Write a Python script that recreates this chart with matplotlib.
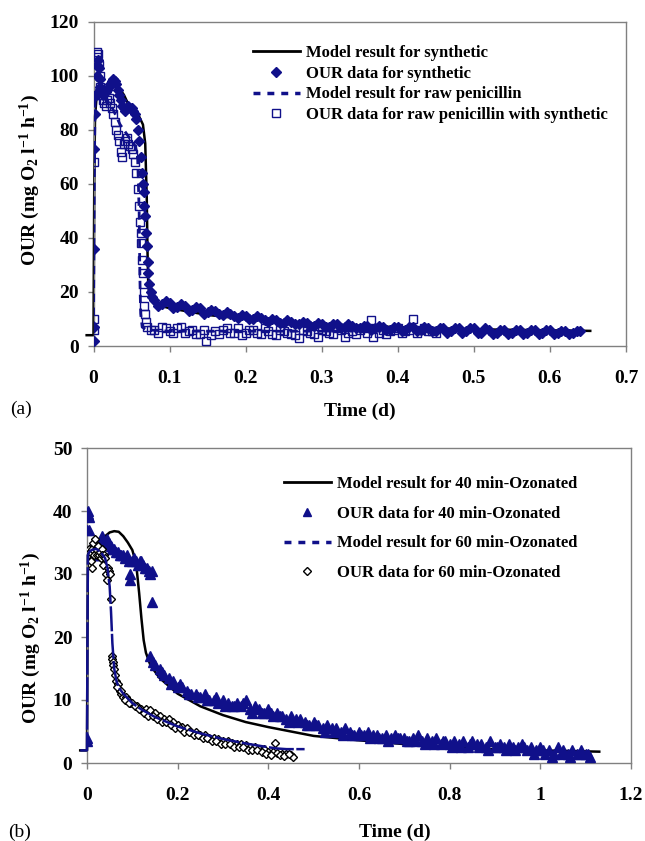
import matplotlib
matplotlib.use("Agg")
import matplotlib.pyplot as plt
from matplotlib.lines import Line2D

plt.rcParams['font.family'] = ['Liberation Serif', 'DejaVu Serif']
plt.rcParams['font.weight'] = 'bold'
plt.rcParams['mathtext.default'] = 'regular'

NAVY = '#10108a'
GREY = '#808080'

# ---- (a) synthetic vs raw penicillin ----
syn_t = [0.000, 0.000, 0.001, 0.001, 0.002, 0.003, 0.004, 0.005, 0.006, 0.007,
         0.008, 0.009, 0.010, 0.012, 0.014, 0.016, 0.018, 0.020, 0.022, 0.024,
         0.026, 0.028, 0.030, 0.032, 0.034, 0.036, 0.038, 0.040, 0.042, 0.044,
         0.046, 0.048, 0.050, 0.052, 0.054, 0.056, 0.058, 0.060, 0.062, 0.064,
         0.065, 0.066, 0.067, 0.068, 0.069, 0.070, 0.071, 0.072, 0.073, 0.075,
         0.077, 0.08, 0.09, 0.10, 0.11, 0.12, 0.13, 0.14, 0.15, 0.16, 0.17,
         0.18, 0.19, 0.20, 0.21, 0.22, 0.23, 0.24, 0.25, 0.26, 0.27, 0.28,
         0.29, 0.30, 0.31, 0.32, 0.33, 0.34, 0.35, 0.36, 0.37, 0.38, 0.39,
         0.40, 0.41, 0.42, 0.43, 0.44, 0.45, 0.46, 0.47, 0.48, 0.49, 0.50,
         0.51, 0.52, 0.53, 0.54, 0.55, 0.56, 0.57, 0.58, 0.59, 0.60, 0.61,
         0.62, 0.63, 0.64,
         0.085, 0.095, 0.105, 0.115, 0.125, 0.135, 0.145, 0.155, 0.165, 0.175,
         0.185, 0.195, 0.205, 0.215, 0.225, 0.235, 0.245, 0.255, 0.265, 0.275,
         0.285, 0.295, 0.305, 0.315, 0.325, 0.335, 0.345, 0.355, 0.365, 0.375,
         0.385, 0.395, 0.405, 0.415, 0.425, 0.435, 0.445, 0.455, 0.465, 0.475,
         0.485, 0.495, 0.505, 0.515, 0.525, 0.535, 0.545, 0.555, 0.565, 0.575,
         0.585, 0.595, 0.605, 0.615, 0.625, 0.635]
syn_v = [2, 7, 36, 73, 86, 93, 100, 104, 106, 103,
         99, 96, 94, 93, 95, 94, 95, 96, 97, 98,
         99, 98, 97, 95, 93, 91, 89, 88, 87, 88,
         89, 88, 88, 87, 86, 84, 80, 76, 70, 64,
         60, 57, 52, 48, 42, 37, 31, 27, 23, 20,
         18, 17, 15.5, 16, 14.5, 15, 13.5, 14, 12.5, 13, 11.5,
         12, 10.5, 11, 10, 10.5, 9, 9.5, 8.5, 9, 8, 8.5,
         7.5, 8, 7, 8, 7, 7.5, 6.5, 7.5, 6.5, 7, 6,
         7, 6, 7, 6, 6.5, 5.5, 6.5, 5.5, 6.5, 5.5, 6.5,
         5, 6, 5, 6, 5, 6, 5, 6, 5, 6, 5,
         5.5, 5, 5.5,
         15, 16.5, 14, 15.5, 13, 14.5, 12, 13.5, 12, 12.5,
         11, 11.5, 10, 11, 9.5, 10, 8.5, 9.5, 8, 9,
         7.5, 8.5, 7, 8, 6.5, 8, 6.5, 7.5, 6, 7.5,
         6, 7, 5.5, 7, 5.5, 7, 5.5, 6.5, 5, 6.5,
         5, 6.5, 5, 6.5, 4.5, 6, 4.5, 6, 4.5, 6,
         4.5, 6, 4.5, 5.5, 4.5, 5.5]

raw_t = [0.000, 0.000, 0.001, 0.002, 0.003, 0.004, 0.005, 0.006, 0.007, 0.008,
         0.009, 0.010, 0.012, 0.014, 0.016, 0.018, 0.020, 0.022, 0.024, 0.026,
         0.028, 0.030, 0.032, 0.034, 0.036, 0.037, 0.040, 0.042, 0.044, 0.046,
         0.048, 0.050, 0.052, 0.054, 0.056, 0.058, 0.060, 0.061, 0.062, 0.063,
         0.064, 0.065, 0.066, 0.067, 0.068, 0.069, 0.07, 0.08, 0.09, 0.10,
         0.11, 0.12, 0.13, 0.14, 0.148, 0.155, 0.16, 0.17, 0.18, 0.19, 0.20,
         0.21, 0.22, 0.23, 0.24, 0.25, 0.26, 0.27, 0.28, 0.29, 0.30, 0.31,
         0.32, 0.33, 0.34, 0.35, 0.36, 0.365, 0.367, 0.38, 0.39, 0.40, 0.41,
         0.42, 0.43, 0.44, 0.45,
         0.075, 0.085, 0.095, 0.105, 0.115, 0.125, 0.135, 0.145, 0.165, 0.175,
         0.185, 0.195, 0.205, 0.215, 0.225, 0.235, 0.245, 0.255, 0.265, 0.275,
         0.285, 0.295, 0.305, 0.315, 0.325, 0.335, 0.345, 0.355, 0.375, 0.385,
         0.395, 0.405, 0.415, 0.425, 0.435, 0.445]
raw_v = [6, 10, 68, 93, 102, 107, 109, 108, 104, 100,
         96, 93, 91, 90, 89, 91, 92, 90, 88, 86,
         83, 80, 78, 76, 72, 70, 75, 76, 77, 75,
         74, 73, 71, 68, 64, 58, 52, 46, 42, 38,
         32, 27, 20, 15, 12, 9, 7, 6, 7, 5.5,
         6.5, 5, 6, 4.5, 2, 4, 5.5, 6, 5, 6.5, 5,
         6, 4.5, 5.5, 4, 5.5, 4.5, 3, 5.5, 4.5, 6, 5,
         6.5, 3.3, 5.5, 6, 5, 9.6, 3.3, 6, 5.5, 6.5, 5.5,
         10, 6, 5.5, 5,
         6, 5, 6.5, 5, 7, 5.5, 4.5, 6, 4.5, 6.5,
         5, 4, 6, 5, 6.5, 4.5, 6, 5, 4, 6,
         5, 3.5, 5.5, 4.5, 6, 5, 4.5, 6.5, 5, 4.5,
         6, 5, 6, 5, 6.5, 5.5]

syn_model_t = [-0.009, 0.000, 0.001, 0.002, 0.004, 0.010, 0.020, 0.025, 0.030,
               0.035, 0.040, 0.045, 0.050, 0.055, 0.060, 0.065, 0.068, 0.070,
               0.071, 0.072, 0.075, 0.08, 0.10, 0.15, 0.20, 0.25, 0.30, 0.40,
               0.50, 0.60, 0.653]
syn_model_v = [4, 4, 60, 85, 92, 94, 96, 98, 97,
               95, 93, 90, 88, 87, 85, 82, 75, 55,
               35, 22, 17, 15.5, 14, 11.5, 10, 9, 8, 7,
               6.2, 5.8, 5.6]

raw_model_t = [0.000, 0.001, 0.002, 0.004, 0.008, 0.015, 0.025, 0.035, 0.045,
               0.055, 0.058, 0.060, 0.061, 0.062, 0.064, 0.07, 0.10, 0.20,
               0.30, 0.45]
raw_model_v = [6, 60, 90, 95, 94, 92, 88, 82, 78,
               74, 70, 50, 25, 12, 7, 6, 5.5, 5.5,
               5.5, 5.5]

# ---- (b) ozonated samples ----
o40_t = [0.000, 0.000, 0.001, 0.002, 0.003, 0.004, 0.005, 0.007, 0.009, 0.011,
         0.013, 0.015, 0.017, 0.019, 0.021, 0.023, 0.025, 0.027, 0.030, 0.033,
         0.036, 0.040, 0.044, 0.048, 0.052, 0.056, 0.060, 0.064, 0.068, 0.072,
         0.076, 0.080, 0.084, 0.088, 0.092, 0.094, 0.095, 0.100, 0.104, 0.108,
         0.112, 0.116, 0.120, 0.124, 0.128, 0.132, 0.136, 0.140, 0.143, 0.143,
         0.14, 0.15, 0.16, 0.17, 0.18, 0.19, 0.20, 0.21, 0.22, 0.23,
         0.24, 0.25, 0.26, 0.27, 0.28, 0.29, 0.30, 0.31, 0.32, 0.33,
         0.34, 0.35, 0.36, 0.37, 0.38, 0.39, 0.40, 0.41, 0.42, 0.43,
         0.44, 0.45, 0.46, 0.47, 0.48, 0.49, 0.50, 0.51, 0.52, 0.53,
         0.54, 0.55, 0.56, 0.57, 0.58, 0.59, 0.60, 0.61, 0.62, 0.63,
         0.64, 0.65, 0.66, 0.67, 0.68, 0.69, 0.70, 0.71, 0.72, 0.73,
         0.74, 0.75, 0.76, 0.77, 0.78, 0.79, 0.80, 0.81, 0.82, 0.83,
         0.84, 0.85, 0.86, 0.87, 0.88, 0.89, 0.90, 0.91, 0.92, 0.93,
         0.94, 0.95, 0.96, 0.97, 0.98, 0.99, 1.00, 1.01, 1.02, 1.03,
         1.04, 1.05, 1.06, 1.07, 1.08, 1.09, 1.10, 1.11,
         0.145, 0.165, 0.185, 0.205, 0.225, 0.245, 0.265, 0.285, 0.305, 0.325,
         0.345, 0.365, 0.385, 0.405, 0.425, 0.445, 0.465, 0.485, 0.505, 0.525,
         0.545, 0.565, 0.585, 0.605, 0.625, 0.645, 0.665, 0.685, 0.705, 0.725,
         0.745, 0.765, 0.785, 0.805, 0.825, 0.845, 0.865, 0.885, 0.905, 0.925,
         0.945, 0.965, 0.985, 1.005, 1.025, 1.045, 1.065, 1.085, 1.105]
o40_v = [3.5, 4, 37, 40, 39.5, 39, 37, 34, 33, 34,
         33.5, 34, 33, 34, 33, 33.5, 34, 33, 35, 36,
         35.5, 35, 35.5, 35, 34.5, 34, 34, 33.5, 33.5, 33,
         33, 33, 32.5, 33, 32, 29, 30, 32, 32.5, 32,
         31.5, 32, 32, 31.5, 31, 31, 30.5, 30, 30.5, 25.5,
         17, 15.5, 15, 14, 13.5, 13, 12, 12, 11.5, 11,
         11, 10.5, 11, 10, 10, 9.5, 10, 9.5, 9, 9.5,
         9, 10, 8.5, 9, 8.5, 8, 8.5, 7.5, 8, 7.5,
         7, 7.5, 7, 7, 6.5, 6, 6.5, 6, 5.5, 6,
         5.5, 5.5, 5, 5.5, 5, 4.5, 5, 4.5, 5, 4.5,
         4.5, 4, 4.5, 4, 4.5, 4, 4, 3.5, 4, 4.5,
         3.5, 4, 3.5, 4, 3, 3.5, 3, 3.5, 3, 3.5,
         2.5, 3.5, 3, 3, 2.5, 3.5, 2.5, 3, 2.5, 3,
         2.5, 2.5, 3, 2, 2.5, 2, 2.5, 1.5, 2, 1.5,
         2.5, 2, 1.5, 2, 1.5, 2, 1.5, 1,
         16, 14.5, 12.5, 12.5, 11, 10.5, 10, 10.5, 9, 9,
         9.5, 8, 8, 8, 7.5, 6.5, 6.5, 6, 6, 5,
         5, 4.5, 4.5, 4.5, 4, 4, 3.5, 4, 3.5, 3.5,
         3, 3, 3.5, 2.5, 2.5, 3, 2.5, 2, 2.5, 2,
         2, 2.5, 1.5, 2, 1, 1.5, 1, 1.5, 1.5]

o60_t = [0.002, 0.004, 0.006, 0.008, 0.010, 0.012, 0.014, 0.016, 0.018, 0.020,
         0.022, 0.024, 0.026, 0.028, 0.030, 0.032, 0.034, 0.036, 0.038, 0.040,
         0.042, 0.044, 0.046, 0.048, 0.051, 0.053, 0.055, 0.056, 0.057, 0.058,
         0.060, 0.062, 0.065, 0.068, 0.072, 0.076, 0.080, 0.085, 0.090, 0.095,
         0.10, 0.11, 0.12, 0.13, 0.14, 0.15, 0.16, 0.17, 0.18, 0.19,
         0.20, 0.21, 0.22, 0.23, 0.24, 0.25, 0.26, 0.27, 0.28, 0.29,
         0.30, 0.31, 0.32, 0.33, 0.34, 0.35, 0.36, 0.37, 0.38, 0.39,
         0.40, 0.41, 0.415, 0.42, 0.43, 0.44, 0.45, 0.455,
         0.067, 0.075, 0.083, 0.093, 0.105, 0.115, 0.125, 0.135, 0.145, 0.155,
         0.165, 0.175, 0.185, 0.195, 0.205, 0.215, 0.225, 0.235, 0.245, 0.255,
         0.265, 0.275, 0.285, 0.295, 0.305, 0.315, 0.325, 0.335, 0.345, 0.355,
         0.365, 0.375, 0.385, 0.395, 0.405, 0.425, 0.435, 0.445]
o60_v = [33, 34, 33.5, 32, 31, 34, 35, 33, 35.5, 34,
         33, 34.5, 33, 33.5, 32.5, 34, 33, 31.5, 33, 32.5,
         30, 29, 31, 30.5, 30, 26, 17, 16.5, 16, 15.5,
         15, 14, 13, 12.5, 11.5, 11, 10.5, 10.5, 10, 9.5,
         9.5, 9, 8.5, 8.5, 8.4, 8, 7.5, 7, 7, 6.5,
         6, 5.7, 5.5, 5, 5, 4.5, 4.5, 4, 4, 3.8,
         3.5, 3.5, 3.2, 3, 3, 2.8, 2.6, 2.5, 2.3, 2.2,
         1.8, 1.8, 3.2, 1.6, 1.5, 1.4, 1.2, 1.0,
         12, 11.5, 10, 9.5, 9, 8.5, 8, 7.5, 7.5, 7,
         6.5, 6.5, 6, 5.5, 5.5, 5, 5, 4.5, 4.5, 4,
         4, 3.5, 3.5, 3, 3, 3, 2.5, 2.5, 2.5, 2,
         2, 2, 1.8, 1.5, 1.2, 1.3, 1.1, 1.5]

m40_t = [-0.015, 0.000, 0.001, 0.002, 0.010, 0.020, 0.030, 0.040, 0.050, 0.060,
         0.070, 0.080, 0.090, 0.100, 0.105, 0.110, 0.115, 0.120, 0.125, 0.130,
         0.140, 0.160, 0.20, 0.25, 0.30, 0.35, 0.40, 0.45, 0.50, 0.60,
         0.70, 0.80, 0.90, 1.00, 1.13]
m40_v = [2, 2, 20, 33, 34, 34.5, 35.3, 36, 36.6, 36.8,
         36.7, 36, 35, 33.8, 32.5, 30.5, 27, 23, 19.5, 17.5,
         15.5, 13.5, 11, 9, 7.6, 6.5, 5.7, 5.0, 4.3, 3.6,
         3.0, 2.5, 2.2, 2.0, 1.8]

m60_t = [-0.015, 0.000, 0.001, 0.002, 0.005, 0.010, 0.020, 0.030, 0.040, 0.045,
         0.050, 0.053, 0.056, 0.060, 0.065, 0.070, 0.080, 0.100, 0.120, 0.150,
         0.20, 0.25, 0.30, 0.35, 0.40, 0.42, 0.44, 0.48]
m60_v = [2, 2, 20, 33, 33.5, 33.8, 34, 33.5, 32.5, 31,
         28, 24, 19, 15, 13, 12, 11, 9.5, 8.5, 7.3,
         5.8, 4.7, 3.8, 3.1, 2.5, 2.3, 2.2, 2.2]

W, H = 645, 841
fig = plt.figure(figsize=(W / 100, H / 100), dpi=100)


def px_axes(left, top, right, bottom):
    return fig.add_axes([left / W, 1 - bottom / H, (right - left) / W, (bottom - top) / H])


def style_axes(ax):
    for s in ax.spines.values():
        s.set_color(GREY)
        s.set_linewidth(1.0)
    ax.tick_params(direction='out', length=4.5, width=1.0, color=GREY,
                   labelsize=14, labelcolor='black')
    ax.tick_params(axis='x', pad=13)
    ax.tick_params(axis='y', pad=6)
    for lab in ax.get_xticklabels() + ax.get_yticklabels():
        lab.set_fontweight('bold')


ylab = r'OUR (mg O$_2$ l$^{-1}$ h$^{-1}$)'
leg_font = {'family': 'Liberation Serif', 'weight': 'bold', 'size': 12}

# panel (a)
ax1 = px_axes(93.5, 22, 626, 346)
ax1.plot(syn_model_t, syn_model_v, color='black', lw=1.8, clip_on=False, zorder=2)
ax1.plot(raw_t, raw_v, ls='none', marker='s', ms=5.5, mfc='none', mec=NAVY, mew=1.0, zorder=3)
ax1.plot(syn_t, syn_v, ls='none', marker='D', ms=5.5, color=NAVY, zorder=4)
ax1.plot(raw_model_t, raw_model_v, color=NAVY, lw=2, ls=(0, (3, 2)), zorder=5)
ax1.set_xlim(0, 0.7)
ax1.set_ylim(0, 120)
ax1.set_xticks([0, 0.1, 0.2, 0.3, 0.4, 0.5, 0.6, 0.7])
ax1.set_xticklabels(['0', '0.1', '0.2', '0.3', '0.4', '0.5', '0.6', '0.7'])
ax1.set_yticks(range(0, 121, 20))
style_axes(ax1)

h1 = [Line2D([], [], color='black', lw=2),
      Line2D([], [], ls='none', marker='D', ms=5, color=NAVY),
      Line2D([], [], color=NAVY, lw=2.5, ls=(0, (2, 2))),
      Line2D([], [], ls='none', marker='s', ms=5.5, mfc='none', mec=NAVY, mew=1.0)]
l1 = ['Model result for synthetic', 'OUR data for synthetic',
      'Model result for raw penicillin', 'OUR data for raw penicillin with synthetic']
fig.legend(h1, l1, loc='upper left', bbox_to_anchor=(253 / W, 1 - 45 / H),
           frameon=False, handlelength=2.8, handletextpad=0.4,
           labelspacing=0.28, borderpad=0, borderaxespad=0, prop=leg_font)

fig.text(30 / W, 1 - 180 / H, ylab, rotation=90, ha='center', va='center',
         fontsize=14, fontweight='bold')
fig.text(360 / W, 1 - 411 / H, 'Time (d)', ha='center', va='center',
         fontsize=14, fontweight='bold')
fig.text(21 / W, 1 - 409 / H, '(a)', ha='center', va='center',
         fontsize=14, fontweight='normal')

# panel (b)
ax2 = px_axes(87, 448, 631, 763)
ax2.plot(m40_t, m40_v, color='black', lw=1.8, clip_on=False, zorder=2)
ax2.plot(o40_t, o40_v, ls='none', marker='^', ms=6.5, color=NAVY, zorder=3)
ax2.plot(o60_t, o60_v, ls='none', marker='D', ms=4.5, mfc='white', mec='black', mew=1.0, zorder=4)
ax2.plot(m60_t, m60_v, color=NAVY, lw=1.8, ls=(0, (10, 1)), clip_on=False, zorder=5)
ax2.set_xlim(0, 1.2)
ax2.set_ylim(0, 50)
ax2.set_xticks([0, 0.2, 0.4, 0.6, 0.8, 1.0, 1.2])
ax2.set_xticklabels(['0', '0.2', '0.4', '0.6', '0.8', '1', '1.2'])
ax2.set_yticks(range(0, 51, 10))
style_axes(ax2)

h2 = [Line2D([], [], color='black', lw=2),
      Line2D([], [], ls='none', marker='^', ms=6, color=NAVY),
      Line2D([], [], color=NAVY, lw=2.5, ls=(0, (2, 2))),
      Line2D([], [], ls='none', marker='D', ms=4.5, mfc='white', mec='black', mew=1.0)]
l2 = ['Model result for 40 min-Ozonated', 'OUR data for 40 min-Ozonated',
      'Model result for 60 min-Ozonated', 'OUR data for 60 min-Ozonated']
fig.legend(h2, l2, loc='upper left', bbox_to_anchor=(284 / W, 1 - 476 / H),
           frameon=False, handlelength=2.8, handletextpad=0.4,
           labelspacing=0.82, borderpad=0, borderaxespad=0, prop=leg_font)

fig.text(31 / W, 1 - 638 / H, ylab, rotation=90, ha='center', va='center',
         fontsize=14, fontweight='bold')
fig.text(395 / W, 1 - 832 / H, 'Time (d)', ha='center', va='center',
         fontsize=14, fontweight='bold')
fig.text(20 / W, 1 - 832 / H, '(b)', ha='center', va='center',
         fontsize=14, fontweight='normal')

fig.savefig('out.png', dpi=100)
